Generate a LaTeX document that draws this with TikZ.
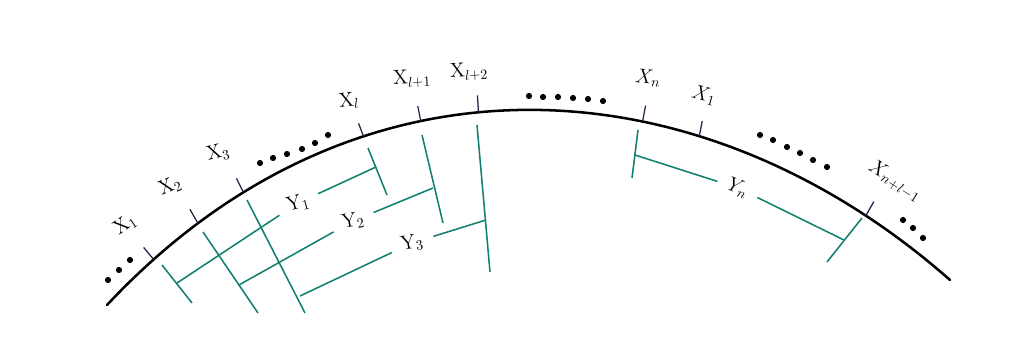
\documentclass[tikz,border=0pt]{standalone}
\definecolor{spangreen}{RGB}{18,128,112}
\definecolor{tickblue}{RGB}{30,40,70}
\begin{document}
\begin{tikzpicture}[x=0.025cm, y=-0.025cm,
            rim/.style={line width=1.8pt, line cap=round},
            tick/.style={line width=0.9pt, tickblue},
            bar/.style={line width=1.1pt, spangreen},
            lbl/.style={font=\fontsize{14}{16}\selectfont, inner sep=1pt},
            ylbl/.style={lbl, circle, inner sep=4pt}
            ]
            \useasboundingbox (0,0) rectangle (1035,347);

            % the rim, with the tick points on it
            \draw[rim] (107,305) .. controls (361,34) and (705,64) .. (950,280)
                coordinate[pos=0.06] (t1) coordinate[pos=0.115] (t2)
                coordinate[pos=0.17] (t3) coordinate[pos=0.31] (tl)
                coordinate[pos=0.375] (tl1) coordinate[pos=0.44] (tl2)
                coordinate[pos=0.625] (tn) coordinate[pos=0.69] (tr)
                coordinate[pos=0.89] (tm);

            % ticks
            \foreach \t/\d in {t1/{(-10,-12)}, t2/{(-8,-14)}, t3/{(-7,-14)},
                               tl/{(-5,-13)}, tl1/{(-3,-15)}, tl2/{(-1,-17)},
                               tn/{(3,-16)}, tr/{(3,-15)}, tm/{(8,-14)}}
                \draw[tick] (\t) -- ++\d;

            \node[lbl, rotate=35] (x1) at (125,225) {$\mathrm{X}_1$};
            \node[lbl, rotate=22] (x2) at (170,186) {$\mathrm{X}_2$};
            \node[lbl, rotate=14] (x3) at (218,153) {$\mathrm{X}_3$};
            \node[lbl, rotate=6] (xl) at (349,101) {$\mathrm{X}_l$};
            \node[lbl, rotate=3] (xl1) at (412,79) {$\mathrm{X}_{l+1}$};
            \node[lbl, rotate=3] (xl2) at (469,72) {$\mathrm{X}_{l+2}$};
            \node[lbl, rotate=-5] (xn) at (648,78) {$X_n$};
            \node[lbl, rotate=-15] (xr) at (704,95) {$X_1$};
            \node[lbl, rotate=-32] (xm) at (895,181) {$X_{n+l-1}$};

            % dots
            \foreach \p in {(108,280),(119,270),(130,260),
                            (260,163),(273,158),(287,154),(302,149),(315,143),(328,135),
                            (529,96),(543,97),(558,97),(573,98),(588,99),(603,101),
                            (760,135),(773,140),(787,147),(800,153),(813,160),(827,167),
                            (903,220),(913,228),(923,238)}
                \fill \p circle (3.1);

            % spans
            \draw[bar] (162,265) -- (192,303);
            \draw[bar] (368,148) -- (387,195);
            \draw[bar] (203,232) -- (258,313);
            \draw[bar] (422,135) -- (443,223);
            \draw[bar] (247,200) -- (305,313);
            \draw[bar] (477,125) -- (490,272);
            \draw[bar] (638,130) -- (632,178);
            \draw[bar] (862,218) -- (827,262);

            \coordinate (y1a) at (177,283); \coordinate (y1b) at (376,167);
            \coordinate (y2a) at (239,285); \coordinate (y2b) at (433,188);
            \coordinate (y3a) at (300,296); \coordinate (y3b) at (486,220);
            \coordinate (yna) at (635,155); \coordinate (ynb) at (844,240);

            \node[ylbl, rotate=15] (y1) at (298,203) {$\mathrm{Y}_1$};
            \node[ylbl, rotate=10] (y2) at (353,221) {$\mathrm{Y}_2$};
            \node[ylbl, rotate=10] (y3) at (412,243) {$\mathrm{Y}_3$};
            \node[ylbl, rotate=-20] (yn) at (738,188) {$Y_n$};

            \draw[bar] (y1a) -- (y1) -- (y1b);
            \draw[bar] (y2a) -- (y2) -- (y2b);
            \draw[bar] (y3a) -- (y3) -- (y3b);
            \draw[bar] (yna) -- (yn) -- (ynb);

            \end{tikzpicture}
\end{document}
